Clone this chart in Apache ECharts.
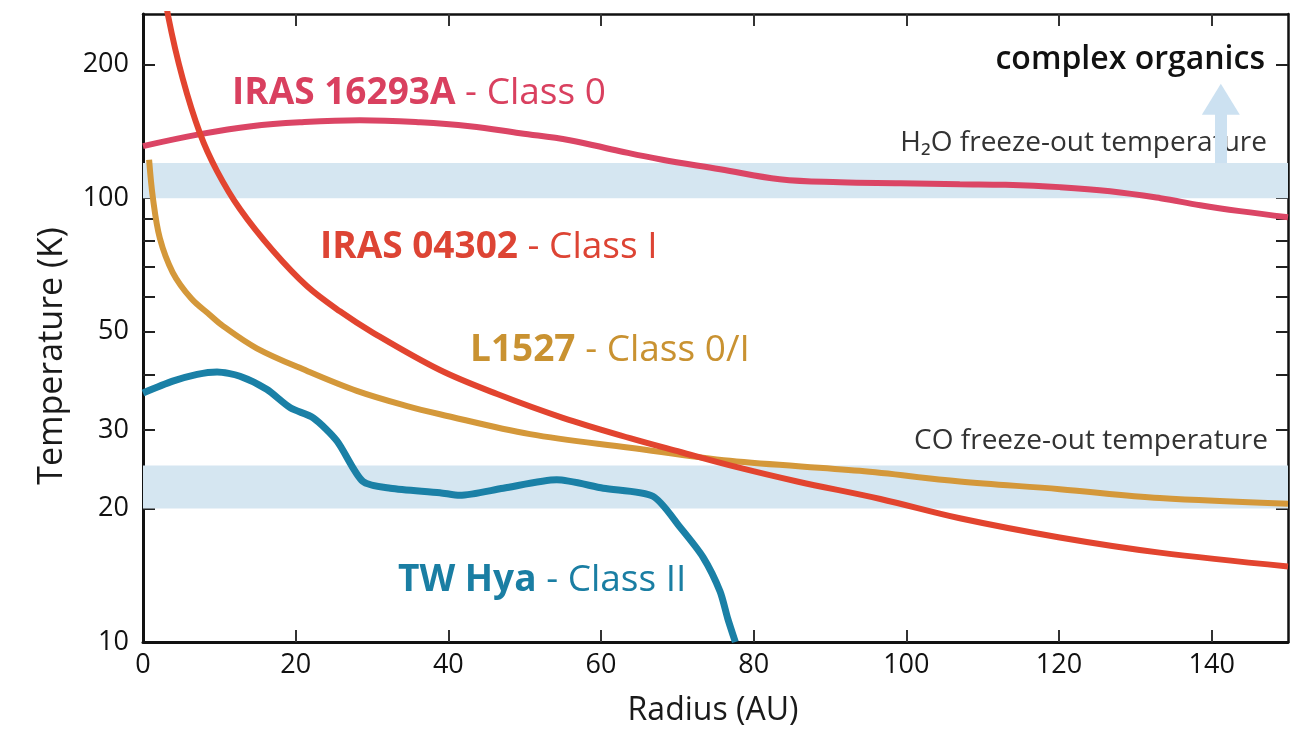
<!DOCTYPE html>
<html>
<head>
<meta charset="utf-8">
<script src="https://cdn.jsdelivr.net/npm/echarts@6/dist/echarts.min.js"></script>
<style>
html,body{margin:0;padding:0;background:#fff;}
#chart{width:1309px;height:729px;}
</style>
</head>
<body>
<div id="chart"></div>
<script>
// ---- data ----
const iras16293Radius = [0, 7.5, 14.2, 20.6, 28.4, 36.3, 42.8, 49.4, 55.9, 62.5, 67.7, 75.6, 83.4, 91.3, 99.2, 107.0, 113.0, 120.1, 126.7, 133.3, 138.5, 143.7, 150];
const iras16293Temp   = [131, 139.4, 145.3, 148.3, 149.9, 148.3, 145.3, 140.1, 135.1, 127.6, 122.4, 116.2, 110.3, 108.6, 108.1, 107.5, 107.2, 105.9, 103.7, 100, 96.4, 93.5, 90.6];

const iras04302Radius = [2.8, 3.3, 5.2, 7.5, 9.7, 12.7, 17.0, 21.5, 25.8, 30.1, 38.9, 46.4, 55.0, 63.8, 70.4, 76.9, 85.7, 96.6, 107.0, 120.1, 133.2, 150];
const iras04302Temp   = [300, 257, 186, 139.4, 115.1, 94.5, 76.2, 63.3, 55.6, 49.8, 41.0, 36.2, 32.0, 28.8, 26.8, 25.0, 23.0, 21.0, 19.0, 17.2, 15.9, 14.8];

const l1527Radius = [0.8, 1.3, 2.2, 3.9, 6.3, 8.8, 10.5, 14.9, 21.5, 28.0, 34.6, 38.9, 50.7, 63.8, 76.9, 93.9, 107.0, 120.1, 133.2, 150];
const l1527Temp   = [122, 100, 81.3, 68.0, 59.5, 54.5, 51.5, 45.9, 40.8, 36.8, 34.0, 32.6, 29.4, 27.4, 25.6, 24.3, 23.0, 22.1, 21.1, 20.5];

const twHyaRadius = [0, 3.9, 7.1, 9.7, 12.7, 16.2, 19.3, 22.3, 25.4, 28.8, 32.4, 38.9, 41.5, 47.2, 54.2, 60.3, 66.8, 70.4, 73.4, 75.6, 76.6, 77.6];
const twHyaTemp   = [36.4, 38.7, 40.1, 40.6, 39.7, 37.1, 33.7, 32.0, 28.4, 23.0, 22.2, 21.7, 21.4, 22.2, 23.2, 22.2, 21.3, 18.1, 15.5, 13.0, 11.3, 10];

const h2oBand = [100, 120];       // K
const coBand  = [20, 25];         // K
const organicsArrow = {radius: 141.2, from: 120, to: 167};

const xTickValues  = [20, 40, 60, 80, 100, 120, 140];
const xLabelValues = [0, 20, 40, 60, 80, 100, 120, 140];
const yTickValues  = [20, 30, 40, 50, 60, 70, 80, 90, 100, 200];
const yLabelValues = [10, 20, 30, 50, 100, 200];

// ---- build ----
const zip = (xs, ys) => xs.map((x, i) => [x, ys[i]]);
const FONT = '"Open Sans"';
const colors = {
  pink: '#db4565', red: '#e2442f', gold: '#d4983a', blue: '#1a80a6',
  band: '#d5e6f1'
};

const chart = echarts.init(document.getElementById('chart'), null, {renderer: 'canvas'});

const axisLineStyle = {color: '#111', width: 3};
function seriesLabel(x, y, bold, rest, color) {
  return {type: 'text', x: x, y: y,
    style: {text: '{b|' + bold + '}{r| ' + rest + '}', align: 'left', verticalAlign: 'middle',
      rich: {b: {fontSize: 37, fontWeight: 'bold', fill: color, fontFamily: FONT},
             r: {fontSize: 37, fill: color, fontFamily: FONT}}}};
}
const option = {
  animation: false,
  backgroundColor: '#fff',
  textStyle: {fontFamily: FONT},
  grid: {left: 143, right: 21, top: 14, bottom: 87, containLabel: false},
  xAxis: [
    {
      type: 'value', min: 0, max: 150, position: 'bottom',
      axisLine: {show: true, onZero: false, lineStyle: axisLineStyle},
      axisTick: {show: true, inside: true, length: 12, lineStyle: {color: '#333', width: 2}, customValues: xTickValues},
      axisLabel: {show: true, customValues: xLabelValues, fontSize: 27, color: '#111', margin: 10, fontFamily: FONT},
      splitLine: {show: false}
    },
    {
      type: 'value', min: 0, max: 150, position: 'top',
      axisLine: {show: true, onZero: false, lineStyle: {color: '#111', width: 2.5}},
      axisTick: {show: true, inside: true, length: 12, lineStyle: {color: '#333', width: 2}, customValues: xTickValues},
      axisLabel: {show: false},
      splitLine: {show: false}
    }
  ],
  yAxis: [
    {
      type: 'log', logBase: 10, min: 10, max: 260, position: 'left',
      axisLine: {show: true, onZero: false, lineStyle: axisLineStyle},
      axisTick: {show: true, inside: true, length: 12, lineStyle: {color: '#222', width: 2}, customValues: yTickValues},
      axisLabel: {show: true, customValues: yLabelValues, fontSize: 27, color: '#111', margin: 14, fontFamily: FONT},
      splitLine: {show: false}, minorTick: {show: false}
    },
    {
      type: 'log', logBase: 10, min: 10, max: 260, position: 'right',
      axisLine: {show: true, onZero: false, lineStyle: {color: '#111', width: 2.5}},
      axisTick: {show: true, inside: true, length: 12, lineStyle: {color: '#222', width: 2}, customValues: yTickValues},
      axisLabel: {show: false},
      splitLine: {show: false}
    }
  ],
  series: [
    {
      name: 'bands', type: 'line', data: [], silent: true, z: 1,
      markArea: {
        silent: true,
        itemStyle: {color: colors.band},
        data: [
          [{yAxis: h2oBand[0]}, {yAxis: h2oBand[1]}],
          [{yAxis: coBand[0]}, {yAxis: coBand[1]}]
        ]
      },
      markLine: {
        silent: true,
        symbol: ['none', 'triangle'],
        symbolSize: [38, 31],
        label: {show: false},
        lineStyle: {color: '#cce1f1', width: 12, type: 'solid'},
        data: [[{coord: [organicsArrow.radius, organicsArrow.from]}, {coord: [organicsArrow.radius, organicsArrow.to]}]]
      }
    },
    {
      name: 'IRAS 16293A', type: 'line', data: zip(iras16293Radius, iras16293Temp),
      showSymbol: false, smooth: 0.4, z: 3,
      lineStyle: {color: colors.pink, width: 6}
    },
    {
      name: 'L1527', type: 'line', data: zip(l1527Radius, l1527Temp),
      showSymbol: false, smooth: 0.35, z: 3,
      lineStyle: {color: colors.gold, width: 6}
    },
    {
      name: 'TW Hya', type: 'line', data: zip(twHyaRadius, twHyaTemp),
      showSymbol: false, smooth: 0.25, z: 3,
      lineStyle: {color: colors.blue, width: 7}
    },
    {
      name: 'IRAS 04302', type: 'line', data: zip(iras04302Radius, iras04302Temp),
      showSymbol: false, smooth: 0.35, z: 4,
      lineStyle: {color: colors.red, width: 6}
    }
  ],
  graphic: [
    {type: 'text', x: 52, y: 356, rotation: Math.PI / 2,
     style: {text: 'Temperature (K)', fontSize: 34, fontFamily: FONT, fill: '#1a1a1a', align: 'center', verticalAlign: 'middle'}},
    {type: 'text', x: 713, y: 711,
     style: {text: 'Radius (AU)', fontSize: 32, fontFamily: FONT, fill: '#1a1a1a', align: 'center', verticalAlign: 'middle'}},
    seriesLabel(232, 93, 'IRAS 16293A', '- Class 0', '#d9405f'),
    seriesLabel(320, 247, 'IRAS 04302', '- Class I', '#dd4434'),
    seriesLabel(470, 350, 'L1527', '- Class 0/I', '#c99231'),
    seriesLabel(398, 580, 'TW Hya', '- Class II', '#1a7ea3'),
    {type: 'text', x: 1265, y: 60,
     style: {text: 'complex organics', fontSize: 32, fontWeight: 600, fontFamily: FONT, fill: '#111', align: 'right', verticalAlign: 'middle'}},
    {type: 'text', x: 1267, y: 143,
     style: {text: 'H₂O freeze-out temperature', fontSize: 28, fontFamily: FONT, fill: '#333', align: 'right', verticalAlign: 'middle'}},
    {type: 'text', x: 1268, y: 441,
     style: {text: 'CO freeze-out temperature', fontSize: 28, fontFamily: FONT, fill: '#333', align: 'right', verticalAlign: 'middle'}}
  ]
};
chart.setOption(option);
</script>
</body>
</html>
